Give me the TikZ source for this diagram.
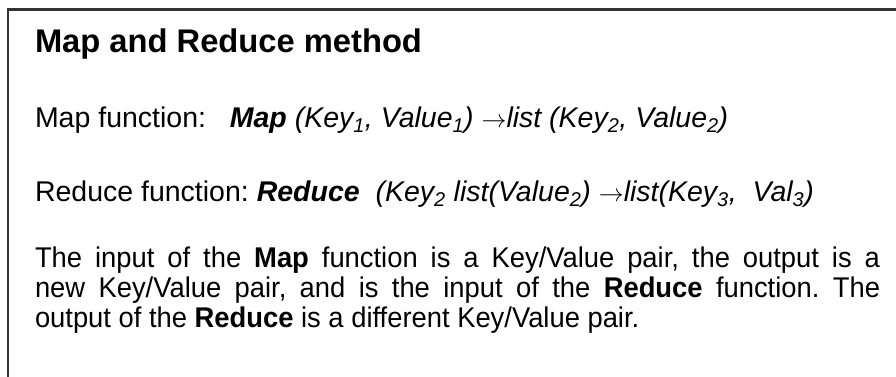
\documentclass[tikz,border=0pt]{standalone}
\usepackage{fontspec}
\setmainfont{Liberation Sans}
\newfontfamily\narrowfont[FakeStretch=0.96]{Liberation Sans}
\newcommand{\rarr}{\ensuremath{\rightarrow}}
\frenchspacing
\begin{document}
\begin{tikzpicture}[x=1pt,y=-1pt,
  every node/.style={inner sep=0pt, outer sep=0pt, anchor=base west, text=black},
  titletext/.style={font=\fontsize{32.7}{36}\selectfont\bfseries},
  linetext/.style={font=\fontsize{28.5}{30}\selectfont},
  paratext/.style={font=\narrowfont\fontsize{28.5}{30}\selectfont\frenchspacing},
  frame/.style={draw=black!80, line width=2.5pt}]
\useasboundingbox (0,0) rectangle (896,376);
\fill[white] (0,0) rectangle (896,376);
\draw[frame] (8,380) -- (8,9.5) -- (900,9.5);
\node[titletext] (title) at (35,52) {Map and Reduce method};
\node[linetext] (mapfn) at (35,127) {Map function:\ \ \ \textit{\textbf{Map} (Key\textsubscript{1}, Value\textsubscript{1}) \rarr list (Key\textsubscript{2}, Value\textsubscript{2})}};
\node[linetext] (redfn) at (35,201) {Reduce function: \textit{\textbf{Reduce}\ \ (Key\textsubscript{2} list(Value\textsubscript{2}) \rarr list(Key\textsubscript{3},\ \ Val\textsubscript{3})}};
\node[paratext] (para1) at (35,267) {\makebox[845pt][s]{The input of the \textbf{Map} function is a Key/Value pair, the output is a}};
\node[paratext] (para2) at (35,297) {\makebox[845pt][s]{new Key/Value pair, and is the input of the \textbf{Reduce} function. The}};
\node[paratext] (para3) at (35,327) {output of the \textbf{Reduce} is a different Key/Value pair.};
\end{tikzpicture}
\end{document}
